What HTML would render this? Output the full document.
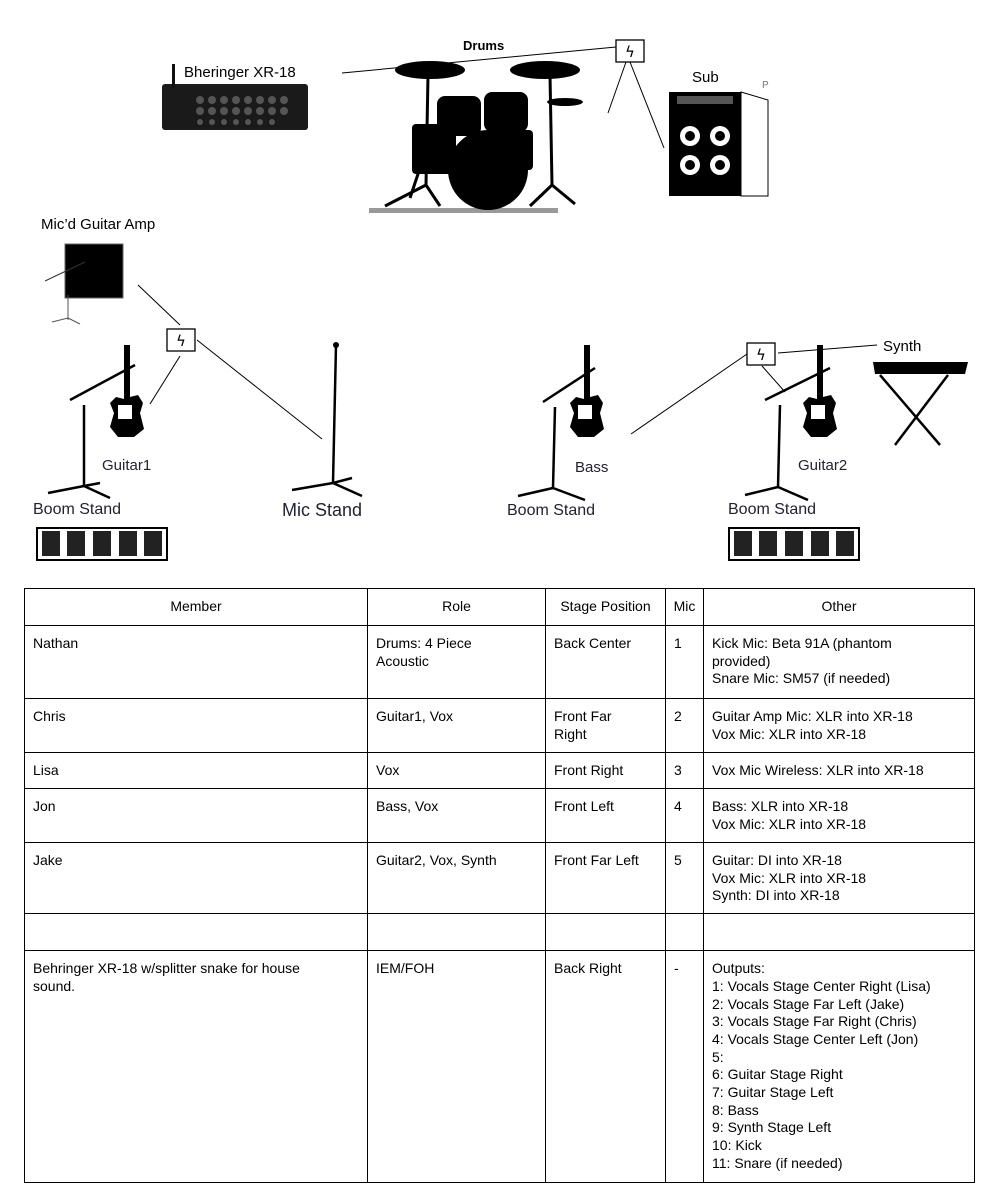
<!DOCTYPE html>
<html><head><meta charset="utf-8"><style>
body{margin:0;width:996px;height:1188px;background:#fff;font-family:"Liberation Sans",sans-serif;position:relative;overflow:hidden}
.t{position:absolute;white-space:nowrap;color:#000}
svg{position:absolute;left:0;top:0}
table{position:absolute;left:24px;top:588px;width:950px;table-layout:fixed;border-collapse:collapse;font-size:14px;line-height:17.7px}
td{border:1.5px solid #000;vertical-align:top;padding:9px 6px 8px 8px;overflow:hidden}
tr.h td{text-align:center;vertical-align:middle;padding:9px 2px}
</style></head><body>
<svg width="996" height="588" viewBox="0 0 996 588">
<g stroke="#000" stroke-width="1" fill="none">
<line x1="342" y1="73" x2="616" y2="47"/>
<line x1="626" y1="62" x2="608" y2="113"/>
<line x1="630" y1="62" x2="664" y2="148"/>
<line x1="138" y1="285" x2="180" y2="325"/>
<line x1="180" y1="356" x2="150" y2="404"/>
<line x1="197" y1="340" x2="322" y2="439"/>
<line x1="747" y1="354" x2="631" y2="434"/>
<line x1="762" y1="366" x2="785" y2="392"/>
<line x1="778" y1="353" x2="877" y2="345"/>
</g>
<g stroke="#000" fill="#fff" stroke-width="1.3">
<rect x="616" y="40" width="28" height="22"/>
<rect x="167" y="329" width="28" height="22"/>
<rect x="747" y="343" width="28" height="22"/>
</g>
<g font-family="DejaVu Sans" font-size="15" text-anchor="middle"><text x="630" y="57">ϟ</text><text x="181" y="346">ϟ</text><text x="761" y="360">ϟ</text></g>
<rect x="162" y="84" width="146" height="46" rx="3" fill="#1a1a1a"/>
<rect x="172" y="64" width="3" height="24" fill="#111"/>
<g fill="#555"><circle cx="200" cy="100" r="4"/><circle cx="212" cy="100" r="4"/><circle cx="224" cy="100" r="4"/><circle cx="236" cy="100" r="4"/><circle cx="248" cy="100" r="4"/><circle cx="260" cy="100" r="4"/><circle cx="272" cy="100" r="4"/><circle cx="284" cy="100" r="4"/>
<circle cx="200" cy="111" r="4"/><circle cx="212" cy="111" r="4"/><circle cx="224" cy="111" r="4"/><circle cx="236" cy="111" r="4"/><circle cx="248" cy="111" r="4"/><circle cx="260" cy="111" r="4"/><circle cx="272" cy="111" r="4"/><circle cx="284" cy="111" r="4"/>
<circle cx="200" cy="122" r="3"/><circle cx="212" cy="122" r="3"/><circle cx="224" cy="122" r="3"/><circle cx="236" cy="122" r="3"/><circle cx="248" cy="122" r="3"/><circle cx="260" cy="122" r="3"/><circle cx="272" cy="122" r="3"/></g>
<rect x="369" y="208" width="189" height="5" fill="#999"/>
<ellipse cx="430" cy="70" rx="35" ry="9" fill="#000"/>
<ellipse cx="545" cy="70" rx="35" ry="9" fill="#000"/>
<ellipse cx="565" cy="102" rx="18" ry="4" fill="#000"/>
<rect x="437" y="96" width="44" height="40" rx="8" fill="#000"/>
<rect x="484" y="92" width="44" height="40" rx="8" fill="#000"/>
<rect x="412" y="124" width="44" height="50" rx="4" fill="#000"/>
<rect x="495" y="130" width="38" height="40" rx="4" fill="#000"/>
<circle cx="488" cy="170" r="40" fill="#000"/>
<g stroke="#000" stroke-width="3"><line x1="428" y1="75" x2="426" y2="185"/><line x1="426" y1="185" x2="385" y2="206"/><line x1="426" y1="185" x2="440" y2="206"/><line x1="550" y1="75" x2="552" y2="185"/><line x1="552" y1="185" x2="530" y2="206"/><line x1="552" y1="185" x2="575" y2="204"/><line x1="426" y1="150" x2="410" y2="198"/></g>
<rect x="669" y="92" width="72" height="104" fill="#000"/>
<polygon points="741,92 768,100 768,196 741,196" fill="#fff" stroke="#000"/>
<rect x="677" y="96" width="56" height="8" fill="#555"/>
<g fill="#fff"><circle cx="690" cy="136" r="10"/><circle cx="720" cy="136" r="10"/><circle cx="690" cy="165" r="10"/><circle cx="720" cy="165" r="10"/></g>
<g fill="#000"><circle cx="690" cy="136" r="5"/><circle cx="720" cy="136" r="5"/><circle cx="690" cy="165" r="5"/><circle cx="720" cy="165" r="5"/></g>
<rect x="65" y="244" width="58" height="54" fill="#000" stroke="#666"/>
<line x1="45" y1="281" x2="85" y2="262" stroke="#333"/>
<g stroke="#555"><line x1="68" y1="295" x2="68" y2="320"/><line x1="68" y1="318" x2="52" y2="322"/><line x1="68" y1="318" x2="80" y2="324"/></g>
<g stroke="#000" stroke-width="2.5" fill="none">
<line x1="84" y1="405" x2="84" y2="486"/><line x1="70" y1="400" x2="135" y2="365"/><line x1="84" y1="486" x2="48" y2="493"/><line x1="84" y1="486" x2="110" y2="498"/><line x1="84" y1="486" x2="100" y2="483"/>
<line x1="336" y1="345" x2="333" y2="483"/><line x1="333" y1="483" x2="292" y2="490"/><line x1="333" y1="483" x2="362" y2="496"/><line x1="333" y1="483" x2="352" y2="478"/>
<line x1="555" y1="407" x2="553" y2="488"/><line x1="543" y1="402" x2="595" y2="368"/><line x1="553" y1="488" x2="518" y2="496"/><line x1="553" y1="488" x2="585" y2="500"/>
<line x1="780" y1="405" x2="778" y2="487"/><line x1="765" y1="400" x2="830" y2="368"/><line x1="778" y1="487" x2="745" y2="495"/><line x1="778" y1="487" x2="808" y2="500"/>
<line x1="880" y1="375" x2="940" y2="445"/><line x1="948" y1="375" x2="895" y2="445"/>
</g>
<circle cx="336" cy="345" r="3" fill="#000"/>
<g fill="#000">
<path d="M124 345 l6 0 l0 52 l8 -2 l5 8 l-3 10 l4 16 l-10 8 l-16 0 l-8 -10 l4 -14 l-4 -10 l6 -6 l8 2z"/>
<path d="M584 345 l6 0 l0 52 l8 -2 l5 8 l-3 10 l4 16 l-10 8 l-16 0 l-8 -10 l4 -14 l-4 -10 l6 -6 l8 2z"/>
<path d="M817 345 l6 0 l0 52 l8 -2 l5 8 l-3 10 l4 16 l-10 8 l-16 0 l-8 -10 l4 -14 l-4 -10 l6 -6 l8 2z"/>
<path d="M873 362 l95 0 l-3 12 l-90 0z"/>
</g>
<g fill="#fff"><rect x="118" y="405" width="14" height="14"/><rect x="578" y="405" width="14" height="14"/><rect x="811" y="405" width="14" height="14"/></g>
<rect x="37" y="528" width="130" height="32" fill="#fff" stroke="#000" stroke-width="2"/>
<rect x="729" y="528" width="130" height="32" fill="#fff" stroke="#000" stroke-width="2"/>
<g fill="#222"><rect x="42" y="531" width="18" height="25"/><rect x="67" y="531" width="18" height="25"/><rect x="93" y="531" width="18" height="25"/><rect x="119" y="531" width="18" height="25"/><rect x="144" y="531" width="18" height="25"/>
<rect x="734" y="531" width="18" height="25"/><rect x="759" y="531" width="18" height="25"/><rect x="785" y="531" width="18" height="25"/><rect x="811" y="531" width="18" height="25"/><rect x="836" y="531" width="18" height="25"/></g>
</svg>
<div class="t" style="left:463px;top:38px;font-size:13px;font-weight:bold">Drums</div>
<div class="t" style="left:184px;top:64px;font-size:15px">Bheringer XR-18</div>
<div class="t" style="left:692px;top:69px;font-size:15px">Sub</div>
<div class="t" style="left:762px;top:80px;font-size:10px;color:#777">P</div>
<div class="t" style="left:41px;top:216px;font-size:15px">Mic’d Guitar Amp</div>
<div class="t" style="left:102px;top:457px;font-size:15px;color:#223">Guitar1</div>
<div class="t" style="left:33px;top:501px;font-size:16px;color:#223">Boom Stand</div>
<div class="t" style="left:282px;top:500px;font-size:18px;color:#223">Mic Stand</div>
<div class="t" style="left:575px;top:459px;font-size:15px;color:#223">Bass</div>
<div class="t" style="left:507px;top:502px;font-size:16px;color:#223">Boom Stand</div>
<div class="t" style="left:798px;top:457px;font-size:15px;color:#223">Guitar2</div>
<div class="t" style="left:728px;top:501px;font-size:16px;color:#223">Boom Stand</div>
<div class="t" style="left:883px;top:338px;font-size:15px">Synth</div>
<table>
<colgroup><col style="width:343px"><col style="width:178px"><col style="width:120px"><col style="width:38px"><col style="width:271px"></colgroup>
<tr class="h" style="height:37px"><td>Member</td><td>Role</td><td>Stage Position</td><td>Mic</td><td>Other</td></tr>
<tr style="height:73px"><td>Nathan</td><td>Drums: 4 Piece<br>Acoustic</td><td>Back Center</td><td>1</td><td>Kick Mic: Beta 91A (phantom<br>provided)<br>Snare Mic: SM57 (if needed)</td></tr>
<tr style="height:54px"><td>Chris</td><td>Guitar1, Vox</td><td>Front Far<br>Right</td><td>2</td><td>Guitar Amp Mic: XLR into XR-18<br>Vox Mic: XLR into XR-18</td></tr>
<tr style="height:36px"><td>Lisa</td><td>Vox</td><td>Front Right</td><td>3</td><td>Vox Mic Wireless: XLR into XR-18</td></tr>
<tr style="height:54px"><td>Jon</td><td>Bass, Vox</td><td>Front Left</td><td>4</td><td>Bass: XLR into XR-18<br>Vox Mic: XLR into XR-18</td></tr>
<tr style="height:71px"><td>Jake</td><td>Guitar2, Vox, Synth</td><td>Front Far Left</td><td>5</td><td>Guitar: DI into XR-18<br>Vox Mic: XLR into XR-18<br>Synth: DI into XR-18</td></tr>
<tr style="height:37px"><td></td><td></td><td></td><td></td><td></td></tr>
<tr style="height:232px"><td>Behringer XR-18 w/splitter snake for house<br>sound.</td><td>IEM/FOH</td><td>Back Right</td><td>-</td><td>Outputs:<br>1: Vocals Stage Center Right (Lisa)<br>2: Vocals Stage Far Left (Jake)<br>3: Vocals Stage Far Right (Chris)<br>4: Vocals Stage Center Left (Jon)<br>5:<br>6: Guitar Stage Right<br>7: Guitar Stage Left<br>8: Bass<br>9: Synth Stage Left<br>10: Kick<br>11: Snare (if needed)</td></tr>
</table>
</body></html>
